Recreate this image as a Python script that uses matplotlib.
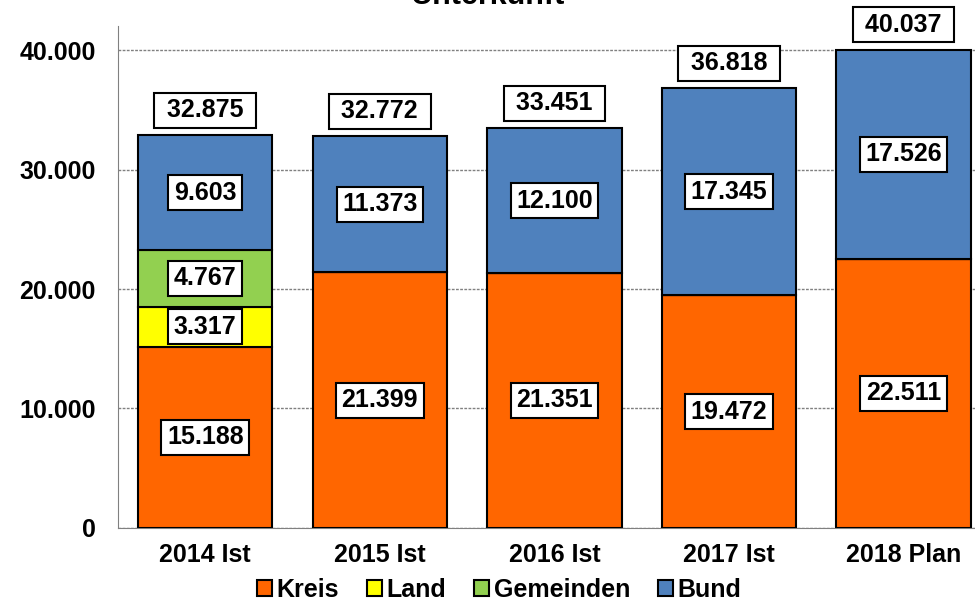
import matplotlib.pyplot as plt
import numpy as np

plt.rcParams['font.family'] = ['Liberation Sans', 'DejaVu Sans']
plt.rcParams['font.weight'] = 'bold'

years = ['2014 Ist', '2015 Ist', '2016 Ist', '2017 Ist', '2018 Plan']
kreis = [15188, 21399, 21351, 19472, 22511]
land = [3317, 0, 0, 0, 0]
gemeinden = [4767, 0, 0, 0, 0]
bund = [9603, 11373, 12100, 17345, 17526]
totals = [32875, 32772, 33451, 36818, 40037]

series = [('Kreis', kreis, '#FF6600'),
          ('Land', land, '#FFFF00'),
          ('Gemeinden', gemeinden, '#92D050'),
          ('Bund', bund, '#4F81BD')]


def fmt(v):
    '''German thousands separator'''
    return '{:,}'.format(v).replace(',', '.')


box = dict(boxstyle='square,pad=0.22', fc='white', ec='black', lw=1.5)

fig = plt.figure(figsize=(9.75, 6.01), dpi=100)
ax = fig.add_axes([0.121, 0.1215, 0.879, 0.835])

x = np.arange(len(years))
bottom = np.zeros(len(years))
for name, vals, color in series:
    vals = np.array(vals)
    ax.bar(x, vals, 0.77, bottom=bottom, color=color, edgecolor='black',
           linewidth=1.5, label=name, zorder=3)
    for i, v in enumerate(vals):
        if v > 0:
            ax.text(x[i], bottom[i] + v / 2, fmt(v), ha='center', va='center',
                    fontsize=18, fontweight='bold', bbox=box, zorder=4)
    bottom += vals

for i, t in enumerate(totals):
    ax.annotate(' ' + fmt(t) + ' ', (x[i], t), xytext=(0, 18),
                textcoords='offset points', ha='center', va='center',
                fontsize=18, fontweight='bold', bbox=box, zorder=4,
                annotation_clip=False)

ax.set_xlim(-0.5, 4.41)
ax.set_ylim(0, 42000)
ax.set_yticks([0, 10000, 20000, 30000, 40000])
ax.set_yticklabels([fmt(v) for v in [0, 10000, 20000, 30000, 40000]])
ax.set_xticks(x)
ax.set_xticklabels(years)
ax.tick_params(length=0, labelsize=18)
ax.tick_params(axis='y', pad=16)
ax.tick_params(axis='x', pad=11)
for lab in ax.get_xticklabels() + ax.get_yticklabels():
    lab.set_fontweight('bold')
ax.yaxis.grid(True, linestyle=(0, (2, 1)), color='#808080', linewidth=1, zorder=0)
ax.set_axisbelow(True)
ax.spines['top'].set_visible(False)
ax.spines['right'].set_visible(False)
ax.spines['left'].set_color('#808080')
ax.spines['bottom'].set_color('#808080')

fig.text(0.5, 0.993, 'Unterkunft', ha='center', va='baseline', fontsize=22,
         fontweight='bold')

leg = fig.legend(loc='center', bbox_to_anchor=(0.512, 0.018), ncol=4,
                 frameon=False, fontsize=18, handlelength=0.6, handleheight=0.6,
                 handletextpad=0.2, columnspacing=1.1, borderpad=0)
for h in leg.legend_handles:
    h.set_linewidth(1.5)

fig.savefig('out.png', dpi=100)
